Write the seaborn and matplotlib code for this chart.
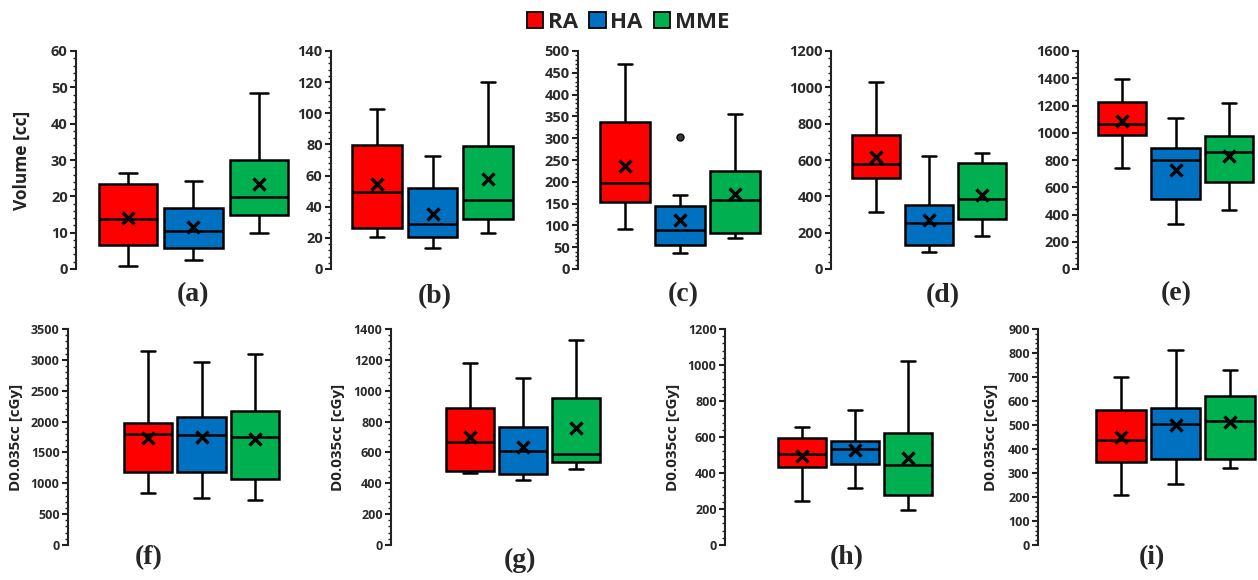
import matplotlib
matplotlib.use("Agg")
import matplotlib.pyplot as plt
from matplotlib.patches import Patch
from matplotlib.ticker import AutoMinorLocator, MultipleLocator
import numpy as np
import pandas as pd
import seaborn as sns

groups = ["RA", "HA", "MME"]
colors = ["#FF0000", "#0070C0", "#00B050"]

# five-number summaries per group (RA, HA, MME): [min, q1, median, q3, max]
box_a = [[0.9, 6.7, 13.7, 23.3, 26.4], [2.4, 5.8, 10.4, 16.8, 24.3], [10.0, 14.8, 19.9, 30.1, 48.4]]
mean_a = [13.9, 11.6, 23.3]
box_b = [[20.8, 26.3, 49.2, 79.7, 102.5], [13.2, 20.3, 28.7, 51.9, 72.8], [22.9, 31.9, 44.4, 79.2, 120.0]]
mean_b = [54.5, 35.2, 57.7]
box_c = [[91, 154, 198, 338, 471], [36, 55, 89, 145, 170], [71, 82, 159, 225, 355]]
mean_c = [237, 112, 173]
outlier_c = [302]  # HA
box_d = [[316, 502, 577, 735, 1032], [94, 134, 252, 355, 621], [180, 276, 384, 585, 640]]
mean_d = [614, 272, 410]
box_e = [[741, 985, 1065, 1225, 1395], [327, 512, 800, 885, 1110], [434, 639, 860, 975, 1215]]
mean_e = [1085, 724, 829]
box_f = [[843, 1186, 1795, 1970, 3145], [762, 1186, 1779, 2067, 2965], [734, 1077, 1746, 2165, 3101]]
mean_f = [1741, 1757, 1714]
box_g = [[467, 482, 667, 885, 1179], [422, 461, 607, 765, 1083], [493, 536, 592, 954, 1331]]
mean_g = [697, 632, 761]
box_h = [[245, 436, 503, 594, 653], [319, 449, 532, 579, 751], [195, 280, 443, 625, 1024]]
mean_h = [497, 529, 481]
box_i = [[210, 346, 436, 564, 699], [256, 360, 505, 571, 813], [319, 357, 517, 619, 730]]
mean_i = [450, 499, 512]

panel_names = ["(a)", "(b)", "(c)", "(d)", "(e)", "(f)", "(g)", "(h)", "(i)"]
y_max = [60, 140, 500, 1200, 1600, 3500, 1400, 1200, 900]
y_step = [10, 20, 50, 200, 200, 500, 200, 200, 100]
y_labels = ["Volume [cc]", "", "", "", "", "D0.035cc [cGy]", "D0.035cc [cGy]", "D0.035cc [cGy]", "D0.035cc [cGy]"]

W, H = 1258, 580
# layout in pixels: spine x, first box centre, box spacing, top y, bottom y
layout = [
    (76, 128, 65.5, 51, 269), (331, 377, 55.5, 51, 269), (578, 625, 55, 51, 269),
    (831, 876, 53, 51, 269), (1078, 1122, 53.5, 51, 269),
    (68, 148, 53.5, 329, 545), (391, 470, 53, 329, 545),
    (725, 802, 53, 329, 545), (1038, 1121, 54.5, 329, 545),
]
label_pos = [(193, 295), (435, 297), (683, 295), (943, 296), (1176, 294),
             (149, 558), (520, 560), (847, 558), (1152, 558)]
ylabel_right = [31, None, None, None, None, 23, 345, 680, 998]

sns.set_theme(style="ticks")
plt.rcParams["font.family"] = ["Open Sans", "DejaVu Sans"]

fig = plt.figure(figsize=(W / 100, H / 100), dpi=100)
fig.patch.set_facecolor("white")

boxes = [box_a, box_b, box_c, box_d, box_e, box_f, box_g, box_h, box_i]
means = [mean_a, mean_b, mean_c, mean_d, mean_e, mean_f, mean_g, mean_h, mean_i]

for k in range(9):
    spine, c0, sp, ytop, ybot = layout[k]
    right = c0 + 2.5 * sp
    ax = fig.add_axes([spine / W, 1 - ybot / H, (right - spine) / W, (ybot - ytop) / H])
    ax.set_facecolor("none")
    df = pd.DataFrame({"group": np.repeat(groups, 5), "value": np.concatenate(boxes[k])})
    sns.boxplot(data=df, x="group", y="value", hue="group", order=groups, hue_order=groups,
                palette=colors, saturation=1, width=0.9, whis=(0, 100), showfliers=False,
                linecolor="black", linewidth=1.8, legend=False, capwidths=0.27, ax=ax)
    if k == 2:
        sns.stripplot(x=["HA"], y=outlier_c, order=groups, jitter=False, color="#3a3a3a",
                      edgecolor="black", linewidth=1, size=5, ax=ax)
    sns.pointplot(x=groups, y=means[k], order=groups, color="black", marker="x",
                  linestyle="none", markersize=8, markeredgewidth=2.4, errorbar=None, ax=ax)

    ax.set_xlim((spine - c0) / sp, 2.5)
    ax.set_ylim(0, y_max[k])
    ax.yaxis.set_major_locator(MultipleLocator(y_step[k]))
    ax.yaxis.set_minor_locator(AutoMinorLocator(5))
    for s in ["top", "right", "bottom"]:
        ax.spines[s].set_visible(False)
    ax.spines["left"].set_linewidth(1.5)
    ax.spines["left"].set_color("#222222")
    ax.set_xticks([])
    ax.set_xlabel("")
    fs = 10.5 if k < 5 else 9
    ax.tick_params(axis="y", which="major", length=4, width=1.5, labelsize=fs,
                   labelcolor="#2a2a2a", color="#222222", pad=2)
    ax.tick_params(axis="y", which="minor", length=2.5, width=1.0, color="#222222")
    for t in ax.get_yticklabels():
        t.set_fontweight("bold")
    if y_labels[k]:
        ax.set_ylabel(y_labels[k], fontsize=12.5 if k == 0 else 11, fontweight="bold", color="#222222")
        ax.yaxis.set_label_coords((ylabel_right[k] - spine) / (right - spine), 0.5)
    else:
        ax.set_ylabel("")
    lx, ly = label_pos[k]
    fig.text(lx / W, 1 - ly / H, panel_names[k], ha="center", va="center",
             fontsize=20, fontweight="bold", family="Liberation Serif")

handles = [Patch(facecolor=c, edgecolor="black", linewidth=1.3) for c in colors]
fig.legend(handles, groups, loc="center", bbox_to_anchor=(628 / W, 1 - 22 / H), ncol=3,
           frameon=False, handlelength=0.75, handleheight=0.75, handletextpad=0.2,
           columnspacing=0.5, prop={"weight": "bold", "size": 16})

fig.savefig("out.png", dpi=100, facecolor="white")
